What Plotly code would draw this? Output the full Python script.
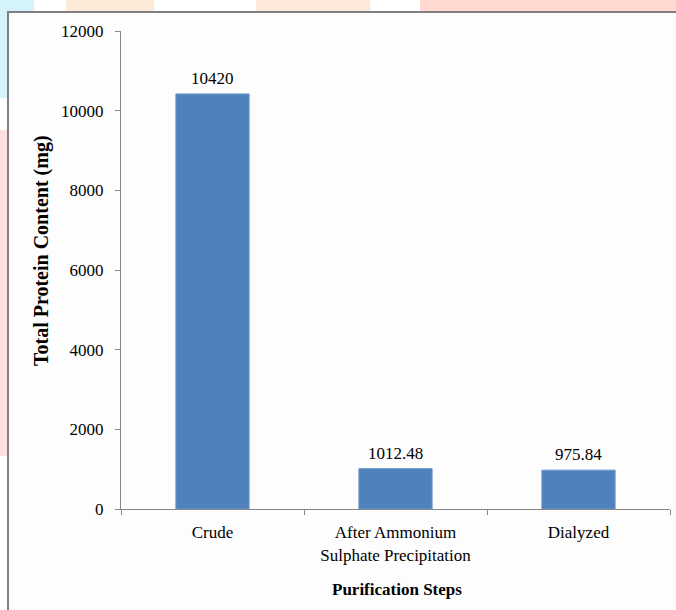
import plotly.graph_objects as go

# Purification data
steps = ["Crude", "After Ammonium<br>Sulphate Precipitation", "Dialyzed"]
protein_mg = [10420, 1012.48, 975.84]
value_labels = ["10420", "1012.48", "975.84"]
y_ticks = [0, 2000, 4000, 6000, 8000, 10000, 12000]

W, H = 676, 610
L, R, T, B = 121, 6, 31, 101
PW, PH = W - L - R, H - T - B


def px_x(px):
    return (px - L) / PW


def px_y(py):
    return (H - B - py) / PH


SERIF = "Liberation Serif"
BLUE = "#4f81bd"
AXIS = "#888888"
FRAME = "#7f7f7f"

fig = go.Figure()
fig.add_trace(go.Bar(
    x=steps,
    y=protein_mg,
    marker=dict(color=BLUE, line=dict(color="#6c95c8", width=1)),
    width=0.4,
    hoverinfo="x+y",
))

annotations = []
for s, v, lab in zip(steps, protein_mg, value_labels):
    annotations.append(dict(
        x=s, y=v, xref="x", yref="y", text=lab, showarrow=False,
        yanchor="bottom", yshift=4,
        font=dict(family=SERIF, size=17, color="#000000"),
    ))

annotations.append(dict(
    x=px_x(397), y=px_y(589), xref="paper", yref="paper",
    text="<b>Purification Steps</b>", showarrow=False,
    xanchor="center", yanchor="middle",
    font=dict(family=SERIF, size=17, color="#000000"),
))
annotations.append(dict(
    x=px_x(41), y=px_y(250), xref="paper", yref="paper",
    text="<b>Total Protein Content (mg)</b>", showarrow=False,
    textangle=-90, xanchor="center", yanchor="middle",
    font=dict(family=SERIF, size=20, color="#000000"),
))


def rect(x0, y0, x1, y1, fill):
    return dict(type="rect", xref="paper", yref="paper",
                x0=px_x(x0), x1=px_x(x1), y0=px_y(y1), y1=px_y(y0),
                fillcolor=fill, line=dict(width=0), layer="below")


shapes = [
    # soft coloured background strips around the chart box
    rect(0, 0, 34, 11, "#d4f3fb"),
    rect(0, 0, 7, 98, "#d4f3fb"),
    rect(66, 0, 154, 11, "#fdebd9"),
    rect(256, 0, 370, 11, "#fde8d9"),
    rect(420, 0, 680, 11, "#ffd9d2"),
    rect(0, 130, 7, 456, "#fde0df"),
    # chart box fill and its top / left edges
    rect(8, 12, 690, 630, "#fdfdfd"),
    rect(7, 11, 690, 13, FRAME),
    rect(7, 11, 9, 630, FRAME),
]

fig.update_layout(
    width=W, height=H,
    margin=dict(l=L, r=R, t=T, b=B, autoexpand=False),
    paper_bgcolor="#ffffff",
    plot_bgcolor="rgba(0,0,0,0)",
    showlegend=False,
    bargap=0.6,
    annotations=annotations,
    shapes=shapes,
    font=dict(family=SERIF, size=17, color="#000000"),
    xaxis=dict(
        type="category",
        showline=True, linecolor=AXIS, linewidth=1,
        ticks="outside", ticklen=5, tickcolor=AXIS, tickson="boundaries",
        showgrid=False, zeroline=False,
        tickfont=dict(family=SERIF, size=17, color="#000000"),
        ticklabelstandoff=8,
        automargin=False,
    ),
    yaxis=dict(
        range=[0, 12000],
        tickvals=y_ticks,
        ticktext=[str(v) for v in y_ticks],
        showline=True, linecolor=AXIS, linewidth=1,
        ticks="outside", ticklen=5, tickcolor=AXIS,
        showgrid=False, zeroline=False,
        tickfont=dict(family=SERIF, size=17, color="#000000"),
        ticklabelstandoff=8,
        automargin=False,
    ),
)

fig.write_html("out.html")
